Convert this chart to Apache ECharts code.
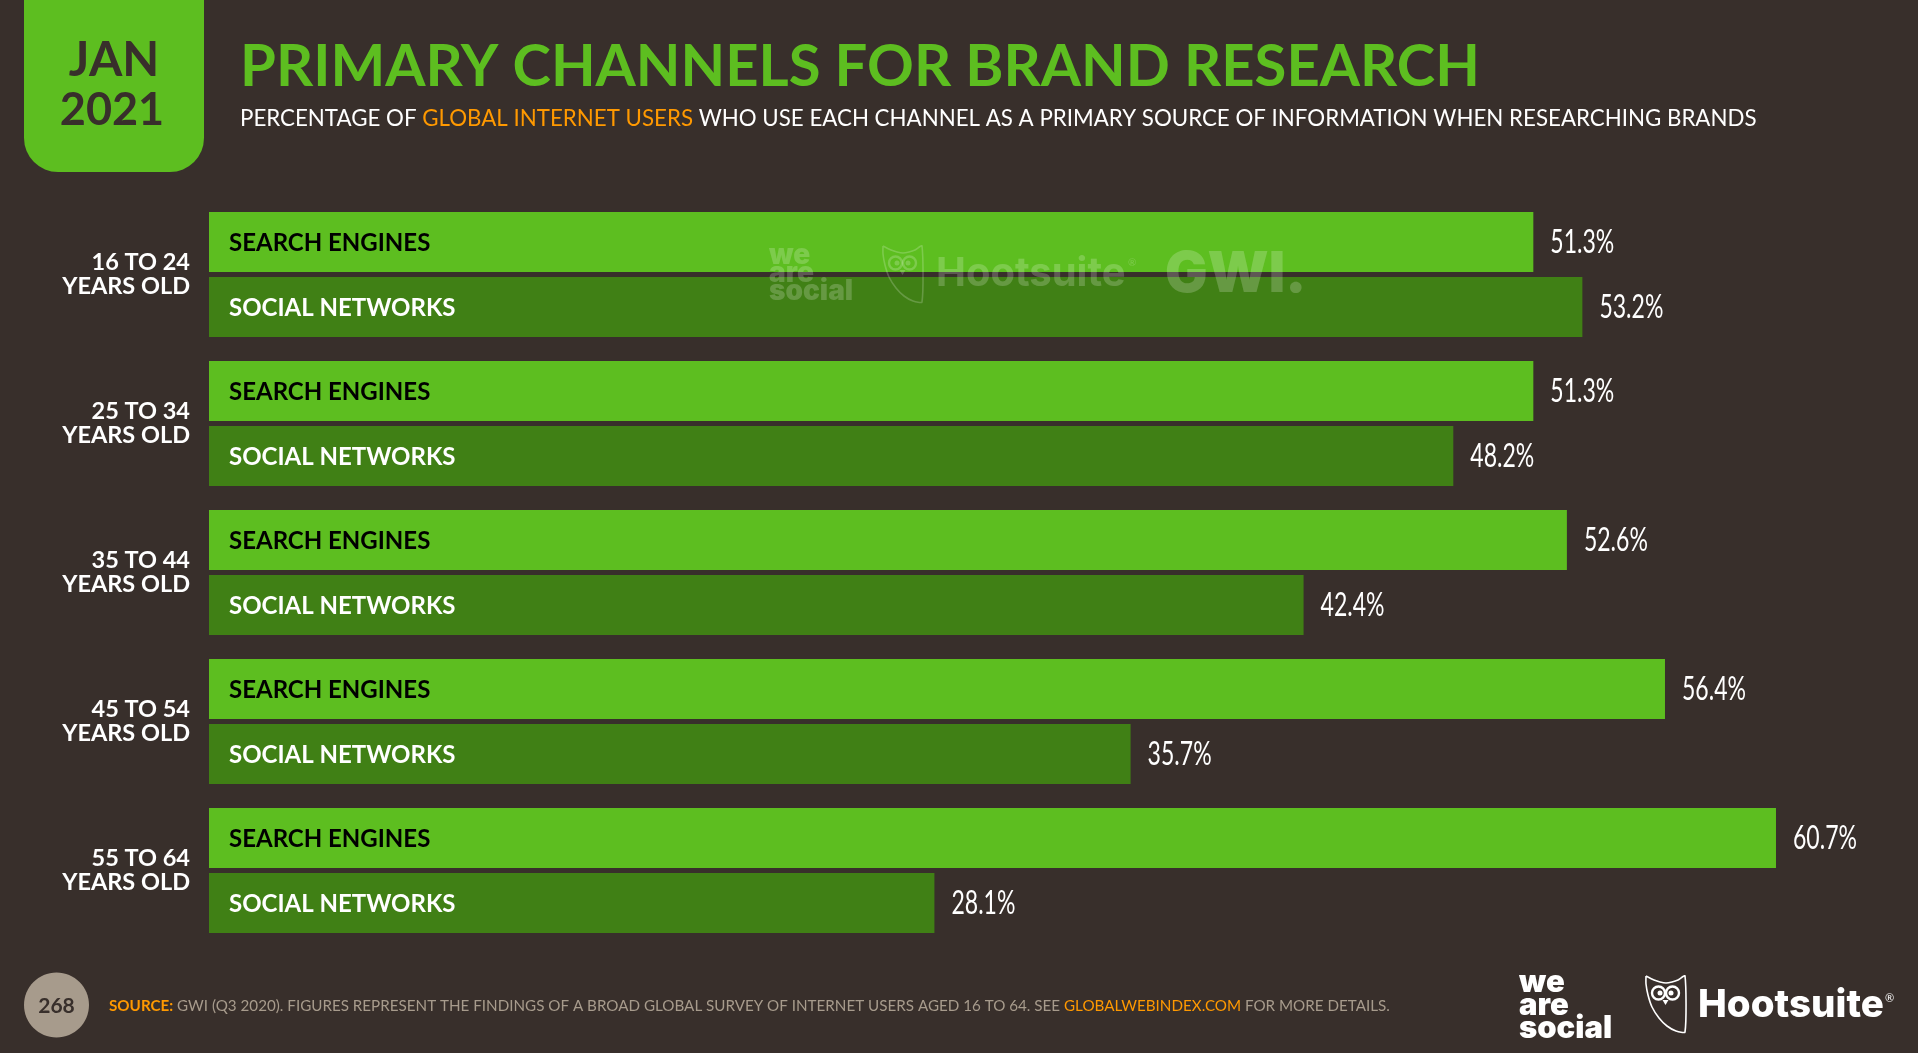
<!DOCTYPE html>
<html lang="en">

<head>
    <meta charset="UTF-8">
    <title>Primary channels for brand research</title>
    <style>
        html, body { margin: 0; padding: 0; background: #382f2b; }
        #main { width: 1918px; height: 1053px; }
    </style>
</head>

<body>
    <div id="main"></div>

    <script src="https://cdn.jsdelivr.net/npm/echarts@6/dist/echarts.min.js"></script>
    <script>
        var categories = ['16 TO 24\nYEARS OLD', '25 TO 34\nYEARS OLD', '35 TO 44\nYEARS OLD', '45 TO 54\nYEARS OLD', '55 TO 64\nYEARS OLD'];
        var searchEngines = [51.3, 51.3, 52.6, 56.4, 60.7];
        var socialNetworks = [53.2, 48.2, 42.4, 35.7, 28.1];

        var GREEN = '#5dbe20';
        var DARK_GREEN = '#408015';
        var BG = '#382f2b';
        var ORANGE = '#ff9900';
        var GREY = '#a79b8c';
        var FONT = 'Lato';

        function nameLabel(color) {
            return {
                show: true, position: 'insideLeft', distance: 20, offset: [0, 1],
                formatter: '{a}', color: color,
                fontFamily: FONT, fontWeight: 'bold', fontSize: 24
            };
        }

        // value at the bar end, squeezed sideways because no condensed font is installed
        function valueLabels(name, values, offsetY) {
            return {
                name: name, type: 'custom', silent: true, z: 5,
                data: values.map(function (v, i) { return [v, i]; }),
                encode: { x: 0, y: 1 },
                renderItem: function (params, api) {
                    var p = api.coord([api.value(0), api.value(1)]);
                    return {
                        type: 'text', x: p[0] + 17, y: p[1] + offsetY + 1, scaleX: 0.72,
                        style: {
                            text: api.value(0).toFixed(1) + '%', fill: '#fff',
                            fontFamily: FONT, fontSize: 32, align: 'left', verticalAlign: 'middle'
                        }
                    };
                }
            };
        }

        var shieldPoints = [[0, 0], [8, 4], [14, 6], [20, 7], [26, 6], [32, 4], [39, 0], [39, 56], [30, 55], [21, 50], [13, 42], [6, 31], [2, 19], [0, 8], [0, 0]];

        // hootsuite owl, drawn from plain shapes
        function owl(x, y, color, z) {
            var eye = { fill: 'transparent', stroke: color, lineWidth: 2.4 };
            return {
                type: 'group', x: x, y: y, z: z,
                children: [
                    { type: 'polyline', z: z, shape: { points: shieldPoints, smooth: 0.2 }, style: { fill: 'transparent', stroke: color, lineWidth: 1.6 } },
                    { type: 'circle', z: z, shape: { cx: 12.5, cy: 17, r: 6.5 }, style: eye },
                    { type: 'circle', z: z, shape: { cx: 26.5, cy: 17, r: 6.5 }, style: eye },
                    { type: 'circle', z: z, shape: { cx: 14, cy: 17, r: 2.5 }, style: { fill: color } },
                    { type: 'circle', z: z, shape: { cx: 25, cy: 17, r: 2.5 }, style: { fill: color } },
                    { type: 'polygon', z: z, shape: { points: [[16.5, 24], [22.5, 24], [19.5, 29]] }, style: { fill: color } }
                ]
            };
        }

        function txt(x, y, text, size, color, weight, extra) {
            var style = { x: x, y: y, text: text, fill: color, fontFamily: FONT, fontSize: size, fontWeight: weight || 'normal', textVerticalAlign: 'middle' };
            for (var k in extra) style[k] = extra[k];
            return { type: 'text', z: 60, style: style };
        }

        var WM = 'rgba(255,255,255,0.2)';

        var option = {
            backgroundColor: BG,
            animation: false,
            title: [{
                text: 'PRIMARY CHANNELS FOR BRAND RESEARCH',
                left: 235, top: 33,
                textStyle: { color: GREEN, fontFamily: FONT, fontWeight: 'bold', fontSize: 58 }
            }, {
                text: 'PERCENTAGE OF {o|GLOBAL INTERNET USERS} WHO USE EACH CHANNEL AS A PRIMARY SOURCE OF INFORMATION WHEN RESEARCHING BRANDS',
                left: 235, top: 103,
                textStyle: {
                    color: '#fff', fontFamily: FONT, fontWeight: 'normal', fontSize: 22.3,
                    rich: { o: { color: ORANGE, fontFamily: FONT, fontSize: 22.3 } }
                }
            }],
            grid: { left: 209, top: 200, width: 1678, height: 745 },
            xAxis: { type: 'value', min: 0, max: 65, show: false },
            yAxis: {
                type: 'category', data: categories, inverse: true,
                axisLine: { show: false }, axisTick: { show: false },
                axisLabel: { color: '#fff', fontFamily: FONT, fontWeight: 'bold', fontSize: 23.5, lineHeight: 24, align: 'right', margin: 19 }
            },
            series: [
                { name: 'SEARCH ENGINES', type: 'bar', barWidth: 60, barGap: '8.33%', data: searchEngines, itemStyle: { color: GREEN }, label: nameLabel('#000') },
                { name: 'SOCIAL NETWORKS', type: 'bar', barWidth: 60, data: socialNetworks, itemStyle: { color: DARK_GREEN }, label: nameLabel('#fff') },
                valueLabels('SEARCH ENGINES VALUES', searchEngines, -32.5),
                valueLabels('SOCIAL NETWORKS VALUES', socialNetworks, 32.5)
            ],
            graphic: [
                // date badge
                { type: 'rect', z: 1, shape: { x: 24, y: -40, width: 180, height: 212, r: 34 }, style: { fill: GREEN } },
                txt(114, 61, 'JAN', 48, BG, 'bold', { textAlign: 'center' }),
                txt(112, 110, '2021', 45, BG, 'bold', { textAlign: 'center' }),

                // faint watermark over the first group
                txt(769, 256, 'we', 28, WM, '900', { fontFamily: 'Inter' }),
                txt(769, 274, 'are', 28, WM, '900', { fontFamily: 'Inter' }),
                txt(769, 292, 'social', 28, WM, '900', { fontFamily: 'Inter' }),
                owl(883, 246, WM, 60),
                txt(936, 274, 'Hootsuite', 40, WM, 'bold', { fontFamily: 'Inter' }),
                txt(1128, 263, '®', 10, WM),
                txt(1165, 275, 'GWI.', 56.5, WM, '900', { fontFamily: 'Inter' }),

                // footer
                { type: 'ellipse', z: 1, shape: { cx: 56.5, cy: 1005, rx: 32.5, ry: 32.5 }, style: { fill: GREY } },
                txt(56.5, 1006, '268', 21, BG, 'bold', { textAlign: 'center' }),
                txt(109, 1006, '{s|SOURCE:} GWI (Q3 2020). FIGURES REPRESENT THE FINDINGS OF A BROAD GLOBAL SURVEY OF INTERNET USERS AGED 16 TO 64. SEE {o|GLOBALWEBINDEX.COM} FOR MORE DETAILS.', 15.2, GREY, 'normal', {
                    rich: {
                        s: { fill: ORANGE, fontFamily: FONT, fontSize: 15.2, fontWeight: 'bold' },
                        o: { fill: ORANGE, fontFamily: FONT, fontSize: 15.2 }
                    }
                }),

                // logos
                txt(1519, 983, 'we', 31, '#fff', '900', { fontFamily: 'Inter' }),
                txt(1519, 1006, 'are', 31, '#fff', '900', { fontFamily: 'Inter' }),
                txt(1519, 1029, 'social', 31, '#fff', '900', { fontFamily: 'Inter' }),
                owl(1646, 976, '#fff', 60),
                txt(1698, 1005, 'Hootsuite', 38.5, '#fff', '800', { fontFamily: 'Inter' }),
                txt(1885, 998, '®', 11, '#fff')
            ]
        };

        var myChart = echarts.init(document.getElementById('main'));
        myChart.setOption(option);
    </script>
</body>

</html>
